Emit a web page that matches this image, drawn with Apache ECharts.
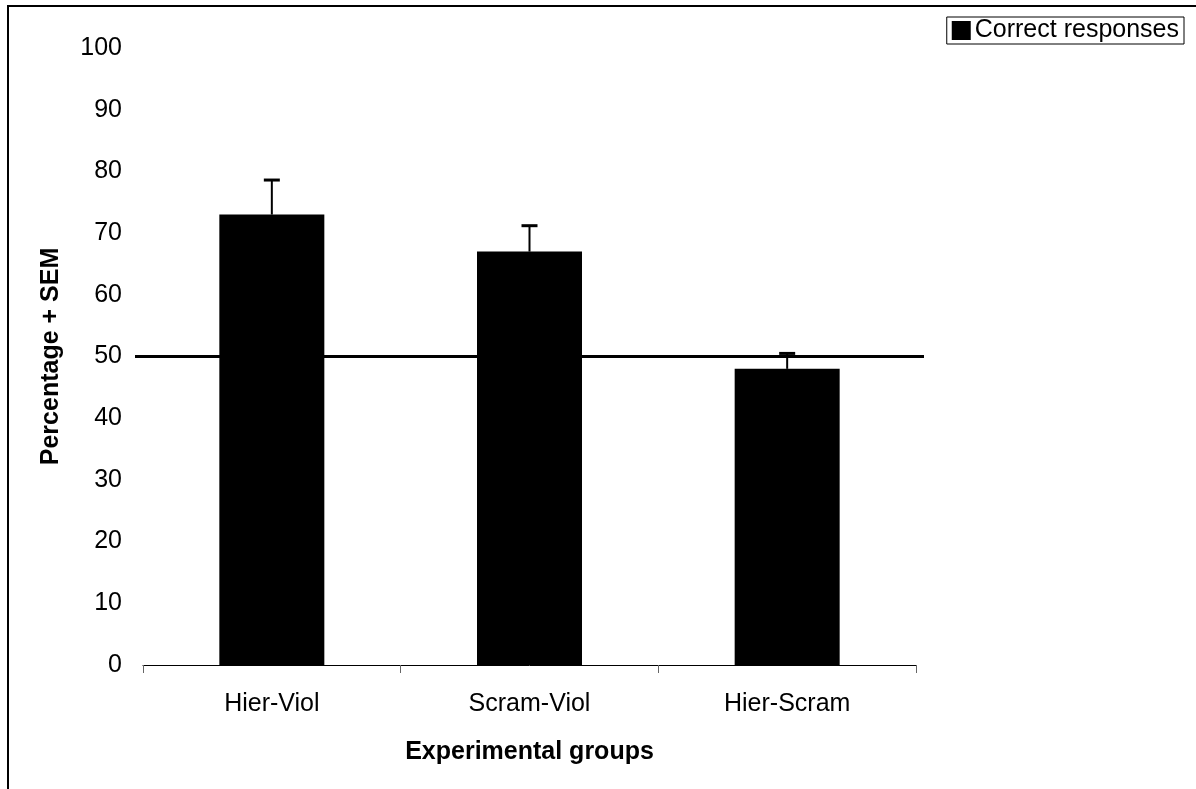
<!DOCTYPE html>
<html><head><meta charset="utf-8">
<script src="https://cdn.jsdelivr.net/npm/echarts@6/dist/echarts.min.js"></script>
<style>html,body{margin:0;padding:0;background:#fff}#c{width:1196px;height:789px}</style>
</head><body><div id="c"></div>
<script>
const categories = ['Hier-Viol', 'Scram-Viol', 'Hier-Scram'];
const correct = [73, 67, 48];
const errorTop = [78.6, 71.2, 50.5];
const chanceLevel = 50;
const yTicks = [0, 100, 10];

const FONT = 'Liberation Sans, Arial, sans-serif';
const FS = 25;
const chart = echarts.init(document.getElementById('c'));
chart.setOption({
  animation: false,
  backgroundColor: '#fff',
  graphic: [{type: 'rect', shape: {x: 8, y: 6, width: 1200, height: 800}, style: {fill: 'none', stroke: '#000', lineWidth: 2}, silent: true, z: -1}],
  legend: {
    data: ['Correct responses'], right: 12, top: 17,
    icon: 'rect', itemWidth: 19, itemHeight: 19, itemGap: 4,
    borderColor: '#000', borderWidth: 1, padding: [1, 5, 1, 5],
    textStyle: {fontFamily: FONT, fontSize: FS, color: '#000', padding: [0,0,0,-1]}
  },
  grid: [
    {left: 143, right: 280, top: 48, bottom: 124},
    {left: 135, right: 272, top: 48, bottom: 124}
  ],
  xAxis: [{
    type: 'category', data: categories, gridIndex: 0,
    axisLine: {show: true, lineStyle: {color: '#000', width: 1}},
    axisTick: {show: true, alignWithLabel: false, length: 8, lineStyle: {color: '#666', width: 1}},
    axisLabel: {fontFamily: FONT, fontSize: FS, color: '#000', margin: 27},
    name: 'Experimental groups', nameLocation: 'middle', nameGap: 75,
    nameTextStyle: {fontFamily: FONT, fontSize: FS, fontWeight: 'bold', color: '#000'}
  }, {
    type: 'value', gridIndex: 1, min: 0, max: 1, show: false
  }],
  yAxis: [{
    type: 'value', gridIndex: 0, min: yTicks[0], max: yTicks[1], interval: yTicks[2],
    axisLine: {show: false}, axisTick: {show: false}, splitLine: {show: false},
    axisLabel: {fontFamily: FONT, fontSize: FS, color: '#000', margin: 21},
    name: 'Percentage + SEM', nameLocation: 'middle', nameGap: 79, nameRotate: 90,
    nameTextStyle: {fontFamily: FONT, fontSize: FS, fontWeight: 'bold', color: '#000'}
  }, {
    type: 'value', gridIndex: 1, min: yTicks[0], max: yTicks[1], show: false
  }],
  series: [{
    name: 'Correct responses', type: 'bar', data: correct, barWidth: 105,
    itemStyle: {color: '#000'}, xAxisIndex: 0, yAxisIndex: 0
  }, {
    type: 'custom', xAxisIndex: 0, yAxisIndex: 0, z: 3,
    data: categories.map((c, i) => [i, correct[i], errorTop[i]]),
    renderItem: function (params, api) {
      const x = api.value(0);
      const p0 = api.coord([x, api.value(1)]);
      const p1 = api.coord([x, api.value(2)]);
      return {type: 'group', children: [
        {type: 'line', shape: {x1: p0[0], y1: p0[1], x2: p1[0], y2: p1[1]}, style: {stroke: '#000', lineWidth: 2}},
        {type: 'line', shape: {x1: p1[0] - 8, y1: p1[1], x2: p1[0] + 8, y2: p1[1]}, style: {stroke: '#000', lineWidth: 3}}
      ]};
    }
  }, {
    type: 'line', xAxisIndex: 1, yAxisIndex: 1, z: 4,
    data: [[0, chanceLevel], [1, chanceLevel]], symbol: 'none',
    lineStyle: {color: '#000', width: 3}
  }]
});
</script></body></html>
